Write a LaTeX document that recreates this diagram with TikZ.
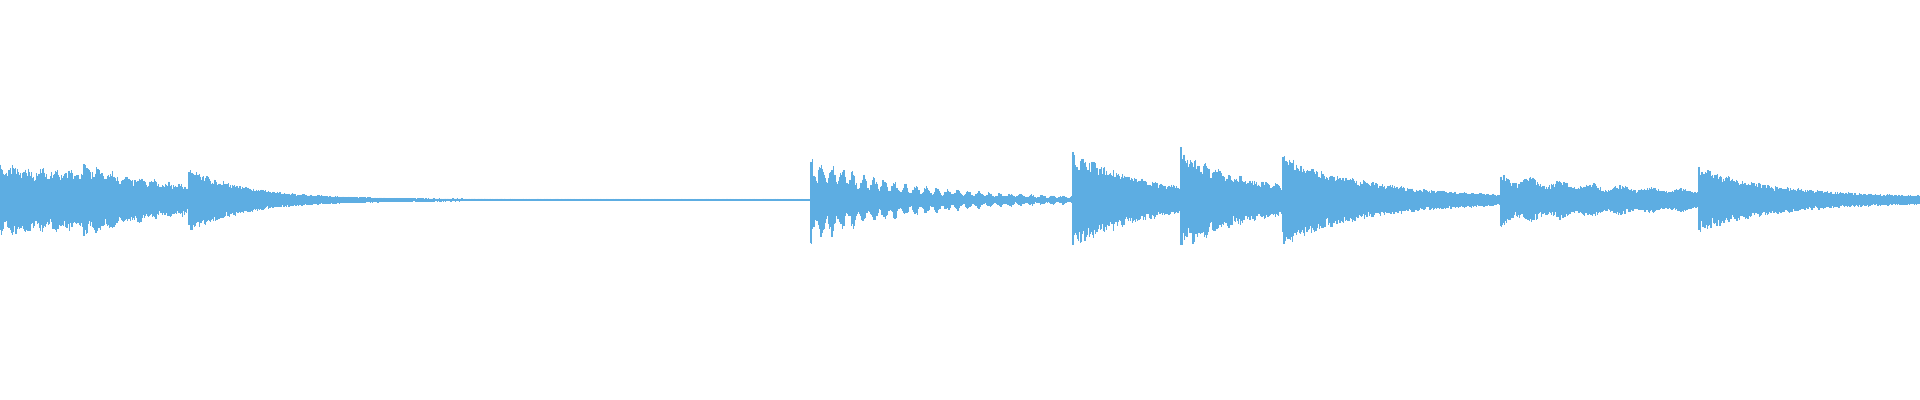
\documentclass[tikz,border=0pt]{standalone}
\definecolor{wave}{HTML}{5DADE2}
\begin{document}
\begin{tikzpicture}[x=0.01cm,y=-0.01cm,wv/.style={wave,line width=0.35pt}]
\useasboundingbox (0,0) rectangle (1920,400);
\pgfmathsetseed{7}
\foreach \a/\b/\A/\k/\c/\o/\p in {
  0/84/34/400/3/0.1/14,
  84/189/36/110/2/0.1/14,
  189/811/31/60/1.2/0/10,
  811/1073/45/90/2/0.25/10.5,
  1073/1181/46/70/5/0.05/10,
  1181/1283/46/60/8/0.08/12,
  1283/1501/44/85/3/0.05/10,
  1501/1699/22/160/5/0.15/30,
  1699/1920/31/80/3/0.05/10}{
  \foreach \x in {\a,\a.6,...,\b}{
    \pgfmathsetmacro{\ph}{mod((\x-\a)/\p,1)*360}
    \pgfmathsetmacro{\env}{(\A*exp(-(\x-\a)/\k)+\c)*(1-\o+\o*cos(\ph))}
    \pgfmathsetmacro{\u}{\env*(0.65+0.35*rnd)}
    \pgfmathsetmacro{\l}{\env*(0.65+0.35*rnd)}
    \draw[wv] (\x,200-\u) -- (\x,200+\l);
  }
}
\end{tikzpicture}
\end{document}
